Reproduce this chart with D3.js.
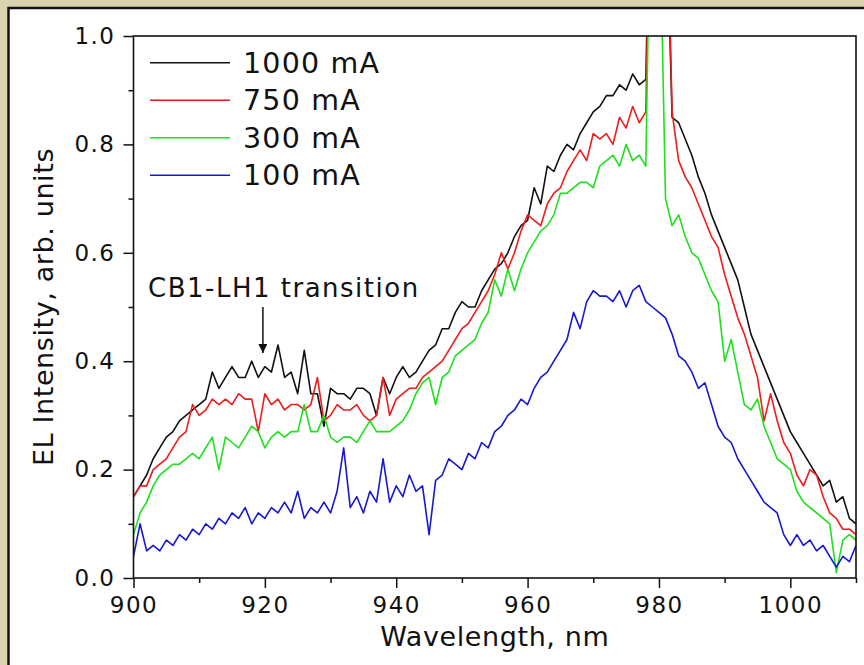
<!doctype html>
<html lang="en">
<head>
  <meta charset="utf-8">
  <title>EL spectra</title>
  <script src="https://d3js.org/d3.v7.min.js"></script>
  <style>
    body { margin: 0; background: #d9d4ae; overflow: hidden; }
    text { font-family: "DejaVu Sans", Verdana, sans-serif; fill: #111; }
  </style>
</head>
<body>
<div class="chart-container"></div>
<script>
  // sampling grid, 1 nm step
  const wavelengths = d3.range(900, 1011);

  const i1000 = [
    0.15, 0.17, 0.19, 0.22, 0.24, 0.26, 0.27, 0.29, 0.30, 0.31,
    0.32, 0.33, 0.38, 0.35, 0.37, 0.39, 0.37, 0.37, 0.40, 0.37,
    0.39, 0.38, 0.43, 0.37, 0.38, 0.34, 0.42, 0.34, 0.34, 0.28,
    0.35, 0.34, 0.34, 0.33, 0.35, 0.35, 0.34, 0.30, 0.37, 0.34,
    0.37, 0.39, 0.37, 0.38, 0.40, 0.42, 0.43, 0.46, 0.46, 0.49,
    0.51, 0.50, 0.50, 0.53, 0.55, 0.57, 0.58, 0.60, 0.63, 0.65,
    0.66, 0.72, 0.69, 0.76, 0.75, 0.78, 0.80, 0.79, 0.82, 0.84,
    0.86, 0.87, 0.89, 0.89, 0.91, 0.90, 0.93, 0.91, 0.92, 1.50,
    1.50, 1.30, 0.85, 0.84, 0.81, 0.78, 0.74, 0.71, 0.67, 0.64,
    0.61, 0.58, 0.55, 0.50, 0.45, 0.42, 0.39, 0.36, 0.33, 0.30,
    0.27, 0.25, 0.23, 0.21, 0.19, 0.17, 0.18, 0.14, 0.15, 0.11,
    0.10
  ];
  const i750 = [
    0.15, 0.17, 0.17, 0.20, 0.21, 0.22, 0.24, 0.26, 0.27, 0.32,
    0.30, 0.31, 0.33, 0.32, 0.33, 0.32, 0.34, 0.33, 0.33, 0.27,
    0.34, 0.32, 0.33, 0.31, 0.32, 0.32, 0.31, 0.32, 0.37, 0.29,
    0.30, 0.32, 0.31, 0.31, 0.32, 0.30, 0.29, 0.30, 0.37, 0.30,
    0.33, 0.34, 0.35, 0.35, 0.37, 0.38, 0.39, 0.40, 0.42, 0.44,
    0.46, 0.47, 0.49, 0.51, 0.53, 0.56, 0.60, 0.57, 0.60, 0.64,
    0.67, 0.66, 0.65, 0.69, 0.71, 0.72, 0.75, 0.77, 0.79, 0.77,
    0.82, 0.81, 0.82, 0.80, 0.85, 0.83, 0.87, 0.84, 0.86, 1.50,
    1.50, 1.40, 0.86, 0.77, 0.74, 0.72, 0.69, 0.66, 0.63, 0.61,
    0.56, 0.52, 0.48, 0.45, 0.41, 0.37, 0.29, 0.34, 0.29, 0.25,
    0.23, 0.19, 0.17, 0.20, 0.19, 0.15, 0.12, 0.11, 0.09, 0.09,
    0.08
  ];
  const i300 = [
    0.08, 0.12, 0.14, 0.17, 0.19, 0.20, 0.21, 0.21, 0.22, 0.23,
    0.22, 0.24, 0.26, 0.20, 0.26, 0.25, 0.24, 0.26, 0.28, 0.27,
    0.24, 0.26, 0.27, 0.26, 0.27, 0.27, 0.32, 0.27, 0.27, 0.30,
    0.26, 0.25, 0.26, 0.26, 0.25, 0.27, 0.29, 0.27, 0.27, 0.27,
    0.28, 0.29, 0.31, 0.34, 0.36, 0.37, 0.32, 0.37, 0.38, 0.41,
    0.42, 0.43, 0.44, 0.47, 0.49, 0.55, 0.52, 0.57, 0.53, 0.57,
    0.60, 0.62, 0.64, 0.65, 0.67, 0.71, 0.71, 0.72, 0.73, 0.73,
    0.72, 0.76, 0.77, 0.78, 0.76, 0.80, 0.77, 0.78, 0.76, 1.50,
    1.30, 0.70, 0.65, 0.67, 0.63, 0.60, 0.59, 0.56, 0.53, 0.51,
    0.40, 0.44, 0.38, 0.32, 0.31, 0.33, 0.28, 0.25, 0.22, 0.21,
    0.20, 0.16, 0.14, 0.13, 0.12, 0.11, 0.10, 0.01, 0.07, 0.08,
    0.07
  ];
  const i100 = [
    0.04, 0.10, 0.05, 0.06, 0.05, 0.07, 0.06, 0.08, 0.07, 0.09,
    0.08, 0.10, 0.09, 0.11, 0.10, 0.12, 0.11, 0.13, 0.10, 0.12,
    0.11, 0.13, 0.12, 0.14, 0.12, 0.16, 0.11, 0.13, 0.12, 0.14,
    0.12, 0.16, 0.24, 0.13, 0.15, 0.12, 0.16, 0.14, 0.22, 0.14,
    0.17, 0.15, 0.19, 0.16, 0.17, 0.08, 0.18, 0.19, 0.22, 0.21,
    0.20, 0.23, 0.22, 0.25, 0.24, 0.27, 0.28, 0.30, 0.31, 0.33,
    0.32, 0.35, 0.37, 0.38, 0.40, 0.42, 0.44, 0.49, 0.46, 0.51,
    0.53, 0.52, 0.52, 0.51, 0.53, 0.50, 0.53, 0.54, 0.51, 0.50,
    0.49, 0.48, 0.45, 0.41, 0.40, 0.38, 0.35, 0.36, 0.32, 0.28,
    0.26, 0.25, 0.22, 0.20, 0.18, 0.16, 0.14, 0.13, 0.12, 0.08,
    0.06, 0.08, 0.06, 0.07, 0.05, 0.06, 0.04, 0.02, 0.04, 0.03,
    0.06
  ];

  const seriesNames = ['1000 mA', '750 mA', '300 mA', '100 mA'];
  const seriesValues = [i1000, i750, i300, i100];
  const seriesColours = ['#111111', '#ee1c1c', '#1ee01e', '#1818d0'];

  const xTicks = [900, 920, 940, 960, 980, 1000];
  const xMinorTicks = [910, 930, 950, 970, 990, 1010];
  const yTicks = [0, 0.2, 0.4, 0.6, 0.8, 1.0];
  const yMinorTicks = [0.1, 0.3, 0.5, 0.7, 0.9];

  const note = { text: 'CB1-LH1 transition', wl: 919.7, from: 0.50, to: 0.415 };

  const width = 864;
  const height = 665;
  const margin = { top: 36, right: 8, bottom: 87, left: 133.5 };

  const svg = d3.select('.chart-container').append('svg')
    .attr('width', width)
    .attr('height', height)
    .style('display', 'block');

  // white panel with dark frame
  svg.append('rect')
    .attr('x', 8.5)
    .attr('y', 8)
    .attr('width', 900)
    .attr('height', 700)
    .style('fill', '#fff')
    .style('stroke', '#111')
    .style('stroke-width', 2.5);

  const x = d3.scaleLinear()
    .domain([900, 1010])
    .range([margin.left, width - margin.right]);

  const y = d3.scaleLinear()
    .domain([0, 1])
    .range([height - margin.bottom, margin.top]);

  svg.append('defs').append('clipPath')
    .attr('id', 'plot-clip')
    .append('rect')
    .attr('x', x(900))
    .attr('y', y(1))
    .attr('width', x(1010) - x(900))
    .attr('height', y(0) - y(1));

  const line = d3.line()
    .x((d, i) => x(wavelengths[i]))
    .y(d => y(d));

  svg.append('g')
    .attr('clip-path', 'url(#plot-clip)')
    .selectAll('path.series')
    .data(seriesValues)
    .enter()
    .append('path')
    .attr('class', 'series')
    .attr('d', d => line(d))
    .style('fill', 'none')
    .style('stroke', (d, i) => seriesColours[i])
    .style('stroke-width', 1.6)
    .style('stroke-linejoin', 'round');

  // axes
  const styleAxis = (g, size) => {
    g.select('.domain').remove();
    g.selectAll('.tick line').style('stroke', '#111').style('stroke-width', 1.5);
    g.selectAll('.tick text')
      .style('font-size', size + 'px')
      .style('letter-spacing', '1.5px')
      .style('fill', '#111');
  };

  svg.append('g')
    .attr('transform', `translate(0, ${y(0)})`)
    .call(d3.axisBottom(x).tickValues(xTicks).tickSize(10).tickPadding(9).tickFormat(d3.format('d')))
    .call(g => styleAxis(g, 23));

  svg.append('g')
    .attr('transform', `translate(0, ${y(0)})`)
    .call(d3.axisBottom(x).tickValues(xMinorTicks).tickSize(5).tickFormat(''))
    .call(g => styleAxis(g, 23));

  svg.append('g')
    .attr('transform', `translate(${x(900)}, 0)`)
    .call(d3.axisLeft(y).tickValues(yTicks).tickSize(10).tickPadding(8).tickFormat(d3.format('.1f')))
    .call(g => styleAxis(g, 23));

  svg.append('g')
    .attr('transform', `translate(${x(900)}, 0)`)
    .call(d3.axisLeft(y).tickValues(yMinorTicks).tickSize(5).tickFormat(''))
    .call(g => styleAxis(g, 23));

  // plot box
  svg.append('rect')
    .attr('x', x(900))
    .attr('y', y(1))
    .attr('width', x(1010) - x(900))
    .attr('height', y(0) - y(1))
    .style('fill', 'none')
    .style('stroke', '#111')
    .style('stroke-width', 1.6);

  svg.append('text')
    .attr('x', (x(900) + x(1010)) / 2)
    .attr('y', 646)
    .style('text-anchor', 'middle')
    .style('font-size', '27px')
    .style('letter-spacing', '0.6px')
    .text('Wavelength, nm');

  svg.append('text')
    .attr('transform', `translate(52.5, ${(y(0) + y(1)) / 2}) rotate(-90)`)
    .style('text-anchor', 'middle')
    .style('font-size', '27px')
    .style('letter-spacing', '0.6px')
    .text('EL Intensity, arb. units');

  // legend
  const legend = svg.append('g').attr('class', 'legend');
  seriesNames.forEach((name, i) => {
    const ly = 62.7 + i * 37.5;
    legend.append('line')
      .attr('x1', 150).attr('x2', 230)
      .attr('y1', ly).attr('y2', ly)
      .style('stroke', seriesColours[i])
      .style('stroke-width', 1.6);
    legend.append('text')
      .attr('x', 243)
      .attr('y', ly)
      .attr('dy', '0.36em')
      .style('font-size', '28.5px')
      .style('letter-spacing', '1.2px')
      .text(name);
  });

  // annotation
  svg.append('defs').append('marker')
    .attr('id', 'arrow')
    .attr('viewBox', '0 0 10 10')
    .attr('refX', 10).attr('refY', 5)
    .attr('markerWidth', 9).attr('markerHeight', 9)
    .attr('markerUnits', 'userSpaceOnUse')
    .attr('orient', 'auto')
    .append('path')
    .attr('d', 'M0,0 L10,5 L0,10 Z')
    .style('fill', '#111');

  svg.append('text')
    .attr('x', 148)
    .attr('y', 296.5)
    .style('font-size', '26px')
    .style('letter-spacing', '1.5px')
    .text(note.text);

  svg.append('line')
    .attr('x1', x(note.wl)).attr('x2', x(note.wl))
    .attr('y1', y(note.from)).attr('y2', y(note.to))
    .style('stroke', '#111')
    .style('stroke-width', 1.5)
    .attr('marker-end', 'url(#arrow)');
</script>
</body>
</html>
